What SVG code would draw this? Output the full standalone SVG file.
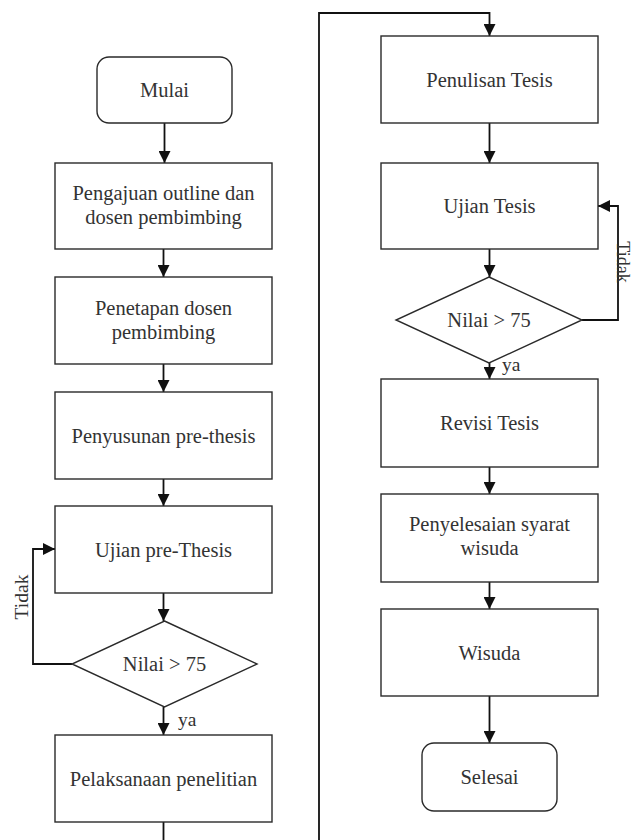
<svg xmlns="http://www.w3.org/2000/svg" width="635" height="840" viewBox="0 0 635 840">
<style>
.box{fill:#fff;stroke:#2a2a2a;stroke-width:1.4}
.t{font-family:"Liberation Serif","Times New Roman",serif;font-size:20.5px;fill:#333;text-anchor:middle}
.lbl{font-family:"Liberation Serif","Times New Roman",serif;font-size:19.5px;fill:#333}
.c{fill:none;stroke:#111;stroke-width:1.8}
</style>
<defs>
<marker id="ah" markerWidth="12" markerHeight="12" viewBox="0 0 12 12" refX="12" refY="6" orient="auto" markerUnits="userSpaceOnUse">
<path d="M0,0 L12,6 L0,12 Z" fill="#111"/>
</marker>
</defs>
<g id="connectors">
<path class="c" d="M164.5 123 V163" marker-end="url(#ah)"/>
<path class="c" d="M163.5 249 V277" marker-end="url(#ah)"/>
<path class="c" d="M163.5 364 V392" marker-end="url(#ah)"/>
<path class="c" d="M163.5 479 V506" marker-end="url(#ah)"/>
<path class="c" d="M163.5 593 V621" marker-end="url(#ah)"/>
<path class="c" d="M72 664 H33 V549 H55" marker-end="url(#ah)"/>
<path class="c" d="M163.5 707 V735" marker-end="url(#ah)"/>
<path class="c" d="M163.5 822 V860 H319 V13 H489.5 V36" marker-end="url(#ah)"/>
<path class="c" d="M489.5 123 V163" marker-end="url(#ah)"/>
<path class="c" d="M489.5 249 V277" marker-end="url(#ah)"/>
<path class="c" d="M582 320 H618 V206 H598" marker-end="url(#ah)"/>
<path class="c" d="M489.5 363 V379" marker-end="url(#ah)"/>
<path class="c" d="M489.5 467 V494" marker-end="url(#ah)"/>
<path class="c" d="M489.5 582 V609" marker-end="url(#ah)"/>
<path class="c" d="M489.5 696 V743" marker-end="url(#ah)"/>
<text class="lbl" text-anchor="middle" transform="translate(28,597) rotate(-90)">Tidak</text>
<text class="lbl" x="178" y="726">ya</text>
<text class="lbl" text-anchor="middle" style="font-size:18px" transform="translate(617,262) rotate(90)">Tidak</text>
<text class="lbl" x="502" y="371">ya</text>
</g>
<g id="mulai"><rect class="box" x="97" y="57" width="135" height="66" rx="12"/><text class="t" x="164.5" y="97">Mulai</text></g>
<g id="pengajuan"><rect class="box" x="55" y="163" width="217" height="86"/><text class="t" x="163.5" y="200">Pengajuan outline dan</text><text class="t" x="163.5" y="224">dosen pembimbing</text></g>
<g id="penetapan"><rect class="box" x="55" y="277" width="217" height="87"/><text class="t" x="163.5" y="315">Penetapan dosen</text><text class="t" x="163.5" y="339">pembimbing</text></g>
<g id="penyusunan"><rect class="box" x="55" y="392" width="217" height="87"/><text class="t" x="163.5" y="442.5">Penyusunan pre-thesis</text></g>
<g id="ujian-pre"><rect class="box" x="55" y="506" width="217" height="87"/><text class="t" x="163.5" y="556.5">Ujian pre-Thesis</text></g>
<g id="nilai1"><polygon class="box" points="164.5,621 257,664 164.5,707 72,664"/><text class="t" x="164.5" y="671">Nilai &gt; 75</text></g>
<g id="pelaksanaan"><rect class="box" x="55" y="735" width="217" height="87"/><text class="t" x="163.5" y="785.5">Pelaksanaan penelitian</text></g>
<g id="penulisan"><rect class="box" x="381" y="36" width="217" height="87"/><text class="t" x="489.5" y="86.5">Penulisan Tesis</text></g>
<g id="ujian-tesis"><rect class="box" x="381" y="163" width="217" height="86"/><text class="t" x="489.5" y="213">Ujian Tesis</text></g>
<g id="nilai2"><polygon class="box" points="489,277 582,320 489,363 396,320"/><text class="t" x="489" y="327">Nilai &gt; 75</text></g>
<g id="revisi"><rect class="box" x="381" y="379" width="217" height="88"/><text class="t" x="489.5" y="430">Revisi Tesis</text></g>
<g id="penyelesaian"><rect class="box" x="381" y="494" width="217" height="88"/><text class="t" x="489.5" y="531">Penyelesaian syarat</text><text class="t" x="489.5" y="555">wisuda</text></g>
<g id="wisuda"><rect class="box" x="381" y="609" width="217" height="87"/><text class="t" x="489.5" y="659.5">Wisuda</text></g>
<g id="selesai"><rect class="box" x="422" y="743" width="135" height="68" rx="12"/><text class="t" x="489.5" y="784">Selesai</text></g>
</svg>
